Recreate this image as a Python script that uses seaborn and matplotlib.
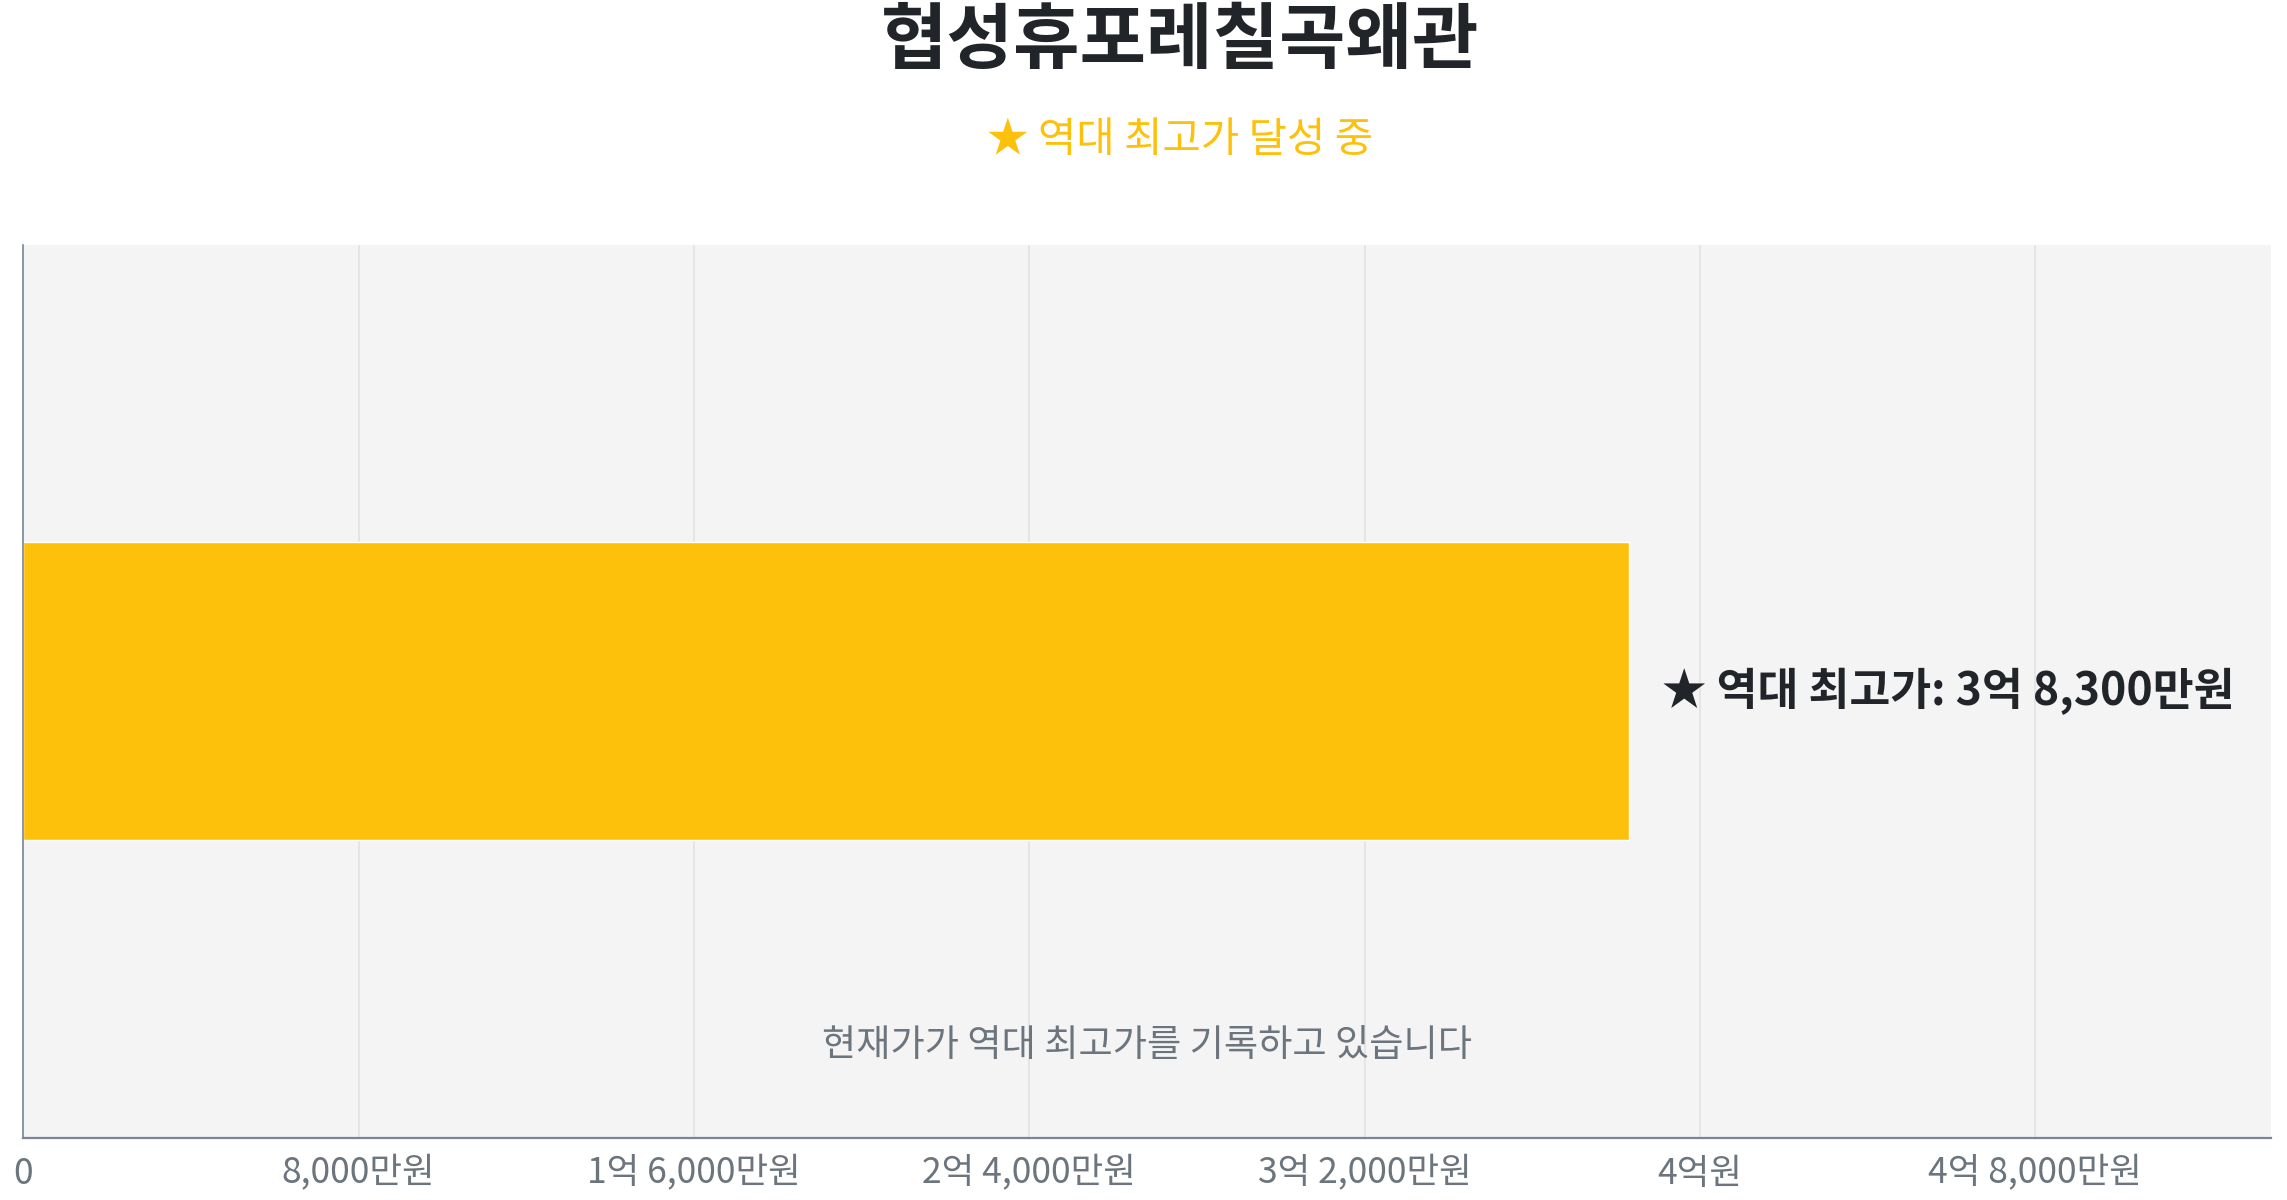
import matplotlib
matplotlib.use("Agg")
import matplotlib.pyplot as plt
from matplotlib.ticker import FuncFormatter, MultipleLocator
import seaborn as sns
import pandas as pd

# 데이터 (단위: 만원)
complex_names = ["협성휴포레칠곡왜관"]
current_prices = [38300]
record_highs = [38300]
tick_step = 8000

title_text = "협성휴포레칠곡왜관"
subtitle_text = "★ 역대 최고가 달성 중"
note_text = "현재가가 역대 최고가를 기록하고 있습니다"

GOLD = "#FEC10B"
DARK = "#212529"
GRAY = "#6C757D"


def fmt_price(v, pos=None):
    v = int(round(v))
    if v == 0:
        return "0"
    eok, man = divmod(v, 10000)
    if eok and man:
        return f"{eok}억 {man:,}만원"
    if eok:
        return f"{eok}억원"
    return f"{man:,}만원"


sns.set_theme(style="white")
plt.rcParams['font.family'] = ['Noto Sans CJK KR', 'DejaVu Sans']

df = pd.DataFrame({"name": complex_names, "price": current_prices})

fig = plt.figure(figsize=(22.87, 12), dpi=100)
ax = fig.add_axes([0.0102, 0.052, 0.9828, 0.744])
ax.set_facecolor("#F4F4F4")

sns.barplot(data=df, x="price", y="name", orient="h", color=GOLD,
            width=1.0, saturation=1, ax=ax, zorder=2)

xmax = record_highs[0] * 1.4
ax.set_xlim(0, xmax)
ax.set_ylim(1.5, -1.5)
ax.xaxis.set_major_locator(MultipleLocator(tick_step))
ax.xaxis.set_major_formatter(FuncFormatter(fmt_price))
ax.grid(axis="x", color="#E3E3E3", linewidth=1.2, zorder=0)
ax.set_axisbelow(True)

ax.set_yticks([])
ax.set_xlabel("")
ax.set_ylabel("")
for s in ["top", "right"]:
    ax.spines[s].set_visible(False)
ax.spines["left"].set_color("#7A8599")
ax.spines["left"].set_linewidth(1.2)
ax.spines["bottom"].set_color("#7A8599")
ax.spines["bottom"].set_linewidth(1.6)
ax.tick_params(axis="x", direction="out", length=8, width=1.2,
               color="#7A8599", labelcolor=GRAY, labelsize=25.5, pad=5)

# 최고가 주석
ax.text(current_prices[0] + 800, 0, f"★ 역대 최고가: {fmt_price(record_highs[0])}",
        ha="left", va="center", fontsize=32, fontweight="bold", color=DARK)

ax.text(0.5, 0.103, note_text, transform=ax.transAxes, ha="center", va="center",
        fontsize=26.8, color=GRAY)

fig.text(0.516, 0.965, title_text, ha="center", va="center",
         fontsize=52, fontweight="bold", color=DARK)
fig.text(0.516, 0.883, subtitle_text, ha="center", va="center",
         fontsize=30, color=GOLD)

fig.savefig("out.png", dpi=100)
